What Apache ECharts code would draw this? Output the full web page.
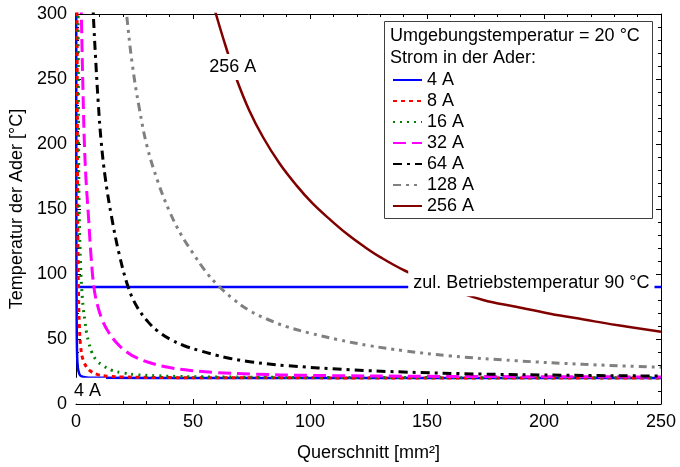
<!DOCTYPE html>
<html>
<head>
<meta charset="utf-8">
<script src="https://cdn.jsdelivr.net/npm/echarts@6/dist/echarts.min.js"></script>
<style>
  html, body { margin: 0; padding: 0; background: #fff; }
  #chart { width: 680px; height: 467px; }
</style>
</head>
<body>
<div id="chart"></div>
<script>
// Conductor temperature [°C] over cross-section [mm²], one curve per current.
const currents = ['4 A', '8 A', '16 A', '32 A', '64 A', '128 A', '256 A'];

const curve4A = [[0.08, 320], [0.1, 300], [0.15, 150], [0.3, 60], [0.5, 36], [0.8, 28], [1.2, 24.5],
  [1.7, 22.2], [2.5, 21.2], [3.8, 20.5], [6, 20.25], [10, 20.15], [50, 20.05], [250, 20]];
const curve8A = [[0.4, 320], [0.45, 300], [0.6, 200], [0.8, 125], [1.1, 82], [1.4, 62], [2, 44], [3, 34],
  [4.5, 28.5], [6, 25.5], [9, 22.8], [14, 21.3], [20, 20.8], [40, 20.3], [100, 20.1], [250, 20.05]];
const curve16A = [[0.85, 320], [0.9, 300], [1.1, 200], [1.4, 145], [1.9, 110], [2.4, 90], [3.1, 74],
  [3.8, 64], [4.5, 55], [5.5, 47], [6.7, 40], [8.8, 33.5], [11.6, 29.5], [15.2, 26], [20, 24],
  [26, 22.5], [35, 21.7], [43, 21.2], [60, 20.8], [100, 20.4], [150, 20.3], [250, 20.15]];
const curve32A = [[2.2, 310], [2.5, 280], [3, 240], [3.5, 205], [4.2, 175], [5.3, 145], [6.5, 112],
  [7.8, 88], [9.5, 74], [11.6, 63], [14, 55], [17.4, 47], [21.7, 40], [26, 35.5], [33, 31], [40, 28],
  [50, 25.6], [60, 24.2], [75, 23], [100, 22], [150, 21.3], [200, 21], [250, 20.8]];
const curve64A = [[6.8, 330], [7.4, 300], [8.5, 262], [9.5, 232], [10.7, 203], [12.5, 174], [15.2, 144],
  [18.5, 115], [22.3, 90], [26, 75], [30.9, 63], [35, 56], [40, 50], [46, 45], [53, 41], [60, 37.5],
  [66, 35], [75, 32.3], [90, 29.5], [117, 26.4], [140, 24.6], [174, 23], [210, 22.1], [250, 21.5]];
const curve128A = [[20.5, 320], [21.6, 300], [24, 262], [27, 228], [30.4, 198], [35, 171], [40, 148],
  [45, 130], [50, 116], [55, 103], [60, 92.5], [67, 81], [74, 72], [82, 65], [90, 59.5], [100, 54.5],
  [112, 49.5], [125, 45], [140, 41], [160, 37], [188, 33.3], [217, 30.5], [250, 28.2]];
const curve256A = [[58, 312], [59.8, 300], [64, 275], [68.4, 251], [74, 226], [80, 205], [87, 185],
  [94.3, 168], [101, 154.5], [108.5, 142], [116, 130.5], [122.8, 121.5], [130, 113], [140.6, 102.5],
  [155, 91.5], [174, 80], [188, 74.8], [202.6, 69.5], [217, 65], [231, 60.7], [250, 55.5]];

// permissible operating temperature
const limitLine = [[0, 90], [250, 90]];
const limitText = 'zul. Betriebstemperatur 90 °C';
const limitTextAt = [194.6, 92.8];
const curveLabels = [
  { text: '256 A', at: [67, 259.3] },
  { text: '4 A', at: [4.9, 10.2] }
];
const legendHeader = ['Umgebungstemperatur = 20 °C', 'Strom in der Ader:'];

const xTicks = { min: 0, max: 250, interval: 50 };
const yTicks = { min: 0, max: 300, interval: 50 };

const curveData = [curve4A, curve8A, curve16A, curve32A, curve64A, curve128A, curve256A];
const curveStyle = [
  { color: '#0000ff', width: 2.5, type: 'solid' },
  { color: '#ff0000', width: 3, type: [4, 4] },
  { color: '#008000', width: 3, type: [2, 5] },
  { color: '#ff00ff', width: 3, type: [13, 6] },
  { color: '#000000', width: 3, type: [9, 5, 3, 5] },
  { color: '#808080', width: 3, type: [8, 5, 3, 5, 3, 5] },
  { color: '#800000', width: 2.5, type: 'solid' }
];

const FONT = '"Liberation Sans", Arial, sans-serif';
const FS = 18;

const chart = echarts.init(document.getElementById('chart'), null, { renderer: 'canvas' });

const axisCommon = {
  axisLine: { show: true, onZero: false, lineStyle: { color: '#000', width: 1 } },
  axisTick: { show: true, inside: true, length: 5, lineStyle: { color: '#000' } },
  minorTick: { show: true, splitNumber: 5, length: 3, lineStyle: { color: '#000' } },
  splitLine: { show: false }
};

const series = currents.map((name, i) => ({
  name,
  type: 'line',
  data: curveData[i],
  showSymbol: false,
  symbol: 'none',
  smooth: 0.4,
  clip: true,
  color: curveStyle[i].color,
  lineStyle: { color: curveStyle[i].color, width: curveStyle[i].width, type: curveStyle[i].type },
  z: 3 + i
}));

series.push({
  name: 'limit',
  type: 'line',
  data: limitLine,
  showSymbol: false,
  symbol: 'none',
  lineStyle: { color: '#0000ff', width: 2.5 },
  z: 2
});

chart.setOption({
  animation: false,
  backgroundColor: '#fff',
  grid: { left: 76, right: 19, top: 14, bottom: 62 },
  xAxis: [
    Object.assign({
      type: 'value', position: 'bottom',
      min: xTicks.min, max: xTicks.max, interval: xTicks.interval,
      name: 'Querschnitt [mm²]', nameLocation: 'middle', nameGap: 40,
      nameTextStyle: { fontFamily: FONT, fontSize: FS, color: '#000' },
      axisLabel: { fontFamily: FONT, fontSize: FS, color: '#000', margin: 9 }
    }, axisCommon),
    Object.assign({
      type: 'value', position: 'top',
      min: xTicks.min, max: xTicks.max, interval: xTicks.interval,
      axisLabel: { show: false }
    }, axisCommon)
  ],
  yAxis: [
    Object.assign({
      type: 'value', position: 'left',
      min: yTicks.min, max: yTicks.max, interval: yTicks.interval,
      name: 'Temperatur der Ader [°C]', nameLocation: 'middle', nameGap: 50, nameRotate: 90,
      nameTextStyle: { fontFamily: FONT, fontSize: FS, color: '#000' },
      axisLabel: { fontFamily: FONT, fontSize: FS, color: '#000', margin: 9 }
    }, axisCommon),
    Object.assign({
      type: 'value', position: 'right',
      min: yTicks.min, max: yTicks.max, interval: yTicks.interval,
      axisLabel: { show: false }
    }, axisCommon)
  ],
  legend: {
    data: currents,
    orient: 'vertical',
    left: 387,
    top: 64.5,
    itemWidth: 29,
    itemHeight: 14,
    itemGap: 0,
    itemStyle: { opacity: 0 },
    textStyle: { fontFamily: FONT, fontSize: FS, color: '#000', lineHeight: 21 },
    z: 30
  },
  series
});

// Legend frame, header lines and in-plot annotations (placed in data coordinates)
const annotations = [
  {
    type: 'rect', z: 25,
    shape: { x: 384.5, y: 21.5, width: 268, height: 197 },
    style: { fill: '#fff', stroke: '#404040', lineWidth: 1 }
  }
];
legendHeader.forEach((t, i) => {
  annotations.push({
    type: 'text', z: 26, x: 390, y: 36 + i * 22,
    style: { text: t, font: FS + 'px ' + FONT, fill: '#000', verticalAlign: 'middle' }
  });
});
[{ text: limitText, at: limitTextAt }].concat(curveLabels).forEach(l => {
  const p = chart.convertToPixel({ xAxisIndex: 0, yAxisIndex: 0 }, l.at);
  annotations.push({
    type: 'text', z: 20, x: p[0], y: p[1],
    style: {
      text: l.text, font: FS + 'px ' + FONT, fill: '#000',
      align: 'center', verticalAlign: 'middle',
      backgroundColor: '#fff', padding: [4, 5]
    }
  });
});
chart.setOption({ graphic: annotations });
</script>
</body>
</html>
